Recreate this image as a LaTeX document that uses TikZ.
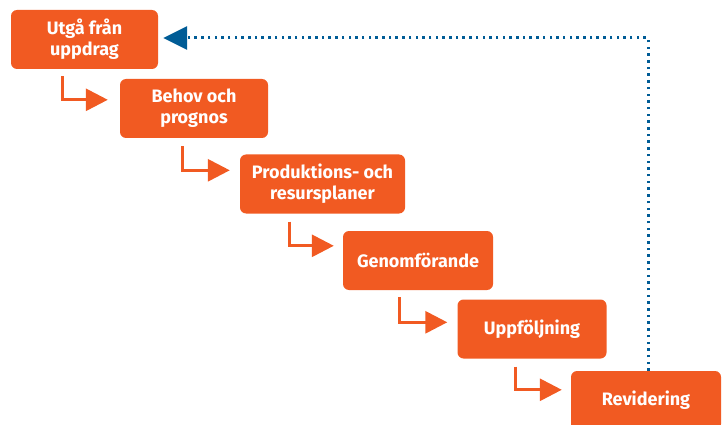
\documentclass[tikz,border=0pt]{standalone}
\usepackage{fontspec}
\setmainfont{Fira Sans}
\usetikzlibrary{arrows.meta,calc}
\definecolor{stegorange}{RGB}{241,90,34}
\definecolor{stegblue}{RGB}{0,92,150}
\begin{document}
\begin{tikzpicture}[x=1pt, y=-1pt]

% Styles
\tikzstyle{stegbox} = [fill=stegorange, rounded corners=6pt, minimum height=59pt, text=white, font=\bfseries\fontsize{18}{21}\selectfont, align=center, inner sep=0pt]
\tikzstyle{elbow}   = [draw=stegorange, line width=3pt, -{Triangle[length=22pt,width=22pt]}]
\tikzstyle{back}    = [draw=stegblue, line width=3pt, dash pattern=on 2.5pt off 4.2pt, -{Triangle[length=24pt,width=23pt]}]

\useasboundingbox (0,0) rectangle (726,425);
\clip (0,0) rectangle (726,425);

% Nodes
\node [stegbox, minimum width=147pt] (uppdrag) at (84.5,39.5) {Utgå från\\uppdrag};
\node [stegbox, minimum width=148pt] (behov) at (194,108.5) {Behov och\\prognos};
\node [stegbox, minimum width=165pt] (planer) at (322.5,184) {Produktions- och\\resursplaner};
\node [stegbox, minimum width=150pt] (genomf) at (418,260.5) {Genomförande};
\node [stegbox, minimum width=149pt] (uppf) at (532,329) {Uppföljning};
\node [stegbox, minimum width=150pt] (revid) at (646,400.5) {Revidering};

% Steps
\draw [elbow] ($(uppdrag.south west)+(52,7)$) |- ($(behov.north west)+(-12,21)$);
\draw [elbow] ($(behov.south west)+(63,8)$) |- ($(planer.north west)+(-10,16)$);
\draw [elbow] ($(planer.south west)+(50,8)$) |- ($(genomf.north west)+(-9,15)$);
\draw [elbow] ($(genomf.south west)+(57,7)$) |- ($(uppf.north west)+(-10,23)$);
\draw [elbow] ($(uppf.south west)+(58,8)$) |- ($(revid.north west)+(-9,19)$);

% Feedback
\coordinate (backstart) at ($(revid.north)+(2,0)$);
\coordinate (backend) at ($(uppdrag.east)+(5,-1.5)$);
\draw [back] (backstart) |- (backend);
\end{tikzpicture}
\end{document}
